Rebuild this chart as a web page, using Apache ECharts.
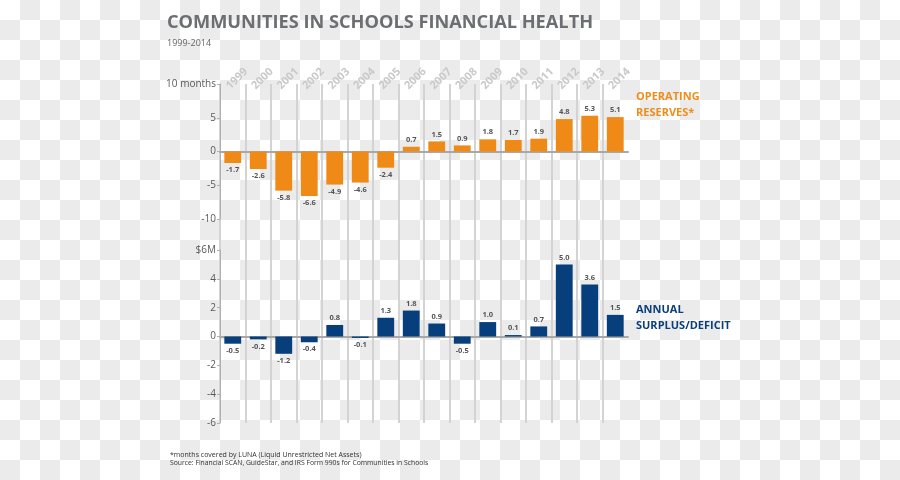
<!DOCTYPE html>
<html>
<head>
<meta charset="utf-8">
<script src="https://cdn.jsdelivr.net/npm/echarts@6/dist/echarts.min.js"></script>
<style>
  html, body { margin: 0; padding: 0; }
  body {
    background: repeating-conic-gradient(#ebebeb 0 25%, #ffffff 0 50%) 0 0 / 40px 40px;
  }
  #chart { width: 900px; height: 480px; }
</style>
</head>
<body>
<div id="chart"></div>
<script>
const years = ['1999','2000','2001','2002','2003','2004','2005','2006','2007','2008','2009','2010','2011','2012','2013','2014'];
const operatingReserves = [-1.7, -2.6, -5.8, -6.6, -4.9, -4.6, -2.4, 0.7, 1.5, 0.9, 1.8, 1.7, 1.9, 4.8, 5.3, 5.1];
const annualSurplus = [-0.5, -0.2, -1.2, -0.4, 0.8, -0.1, 1.3, 1.8, 0.9, -0.5, 1.0, 0.1, 0.7, 5.0, 3.6, 1.5];
const topTicks = { min: -10, max: 10, interval: 5, topLabel: '10 months' };
const bottomTicks = { min: -6, max: 6, interval: 2, topLabel: '$6M' };

const ORANGE = '#ef8a17';
const NAVY = '#063f7b';
const FONT = '"Open Sans", "DejaVu Sans", sans-serif';

function barData(arr) {
  return arr.map(v => ({ value: v, label: { position: v < 0 ? 'bottom' : 'top' } }));
}

const splitColors = years.map(() => '#d3d3d3').concat(['rgba(0,0,0,0)']);

const chart = echarts.init(document.getElementById('chart'));
const yAxisCommon = (t) => ({
  type: 'value',
  min: t.min, max: t.max, interval: t.interval,
  axisLine: { show: true, lineStyle: { color: '#b0b0b0', width: 1 } },
  axisTick: { show: true, length: 3, lineStyle: { color: '#b0b0b0' } },
  splitLine: { show: false },
  axisLabel: {
    margin: 4, fontSize: 10, color: '#5a5a5a', fontFamily: FONT,
    formatter: v => v === t.max ? t.topLabel : String(v)
  }
});
const xAxisChart = (gi) => ({
  type: 'category', gridIndex: gi, data: years,
  axisLine: { show: true, onZero: true, lineStyle: { color: '#a8a8a8', width: 2 } },
  axisTick: { show: false },
  axisLabel: { show: false },
  splitLine: { show: false }
});
const labelStyle = {
  show: true, distance: 3, fontSize: 7.5, fontWeight: 'bold', color: '#555',
  fontFamily: FONT, formatter: p => p.value.toFixed(1)
};

chart.setOption({
  animation: false,
  title: [
    { text: 'COMMUNITIES IN SCHOOLS FINANCIAL HEALTH', left: 162, top: 9,
      textStyle: { fontSize: 18.2, fontWeight: 'bold', color: '#6d6e71', fontFamily: FONT } },
    { text: '1999-2014', left: 162, top: 34,
      textStyle: { fontSize: 9, fontWeight: 'normal', color: '#666', fontFamily: FONT } },
    { text: '*months covered by LUNA (Liquid Unrestricted Net Assets)', left: 165, top: 446,
      textStyle: { fontSize: 7, fontWeight: 'normal', color: '#333', fontFamily: FONT } },
    { text: 'Source: Financial SCAN, GuideStar, and IRS Form 990s for Communities in Schools', left: 165, top: 455,
      textStyle: { fontSize: 6.8, fontWeight: 'normal', color: '#333', fontFamily: FONT } }
  ],
  graphic: [
    { type: 'text', left: 636, top: 89, style: { text: 'OPERATING\nRESERVES*', fill: '#f08c1a', font: 'bold 11px ' + FONT, lineHeight: 16 } },
    { type: 'text', left: 636, top: 302, style: { text: 'ANNUAL\nSURPLUS/DEFICIT', fill: '#0a3f7c', font: 'bold 11px ' + FONT, lineHeight: 16 } }
  ],
  grid: [
    { left: 220, width: 408, top: 84, height: 339 },
    { left: 220, width: 408, top: 84, height: 135 },
    { left: 220, width: 408, top: 250, height: 173 }
  ],
  xAxis: [
    {
      type: 'category', gridIndex: 0, data: years, position: 'top',
      axisLine: { show: false }, axisTick: { show: false },
      axisLabel: {
        interval: 0, rotate: 45, margin: 1, fontSize: 11, fontWeight: 'bold',
        color: '#c9c9c9', fontFamily: FONT, align: 'center', verticalAlign: 'middle',
        padding: [0, 0, 0, 12]
      },
      splitLine: { show: true, interval: 0, lineStyle: { color: splitColors, width: 2 } }
    },
    xAxisChart(1),
    xAxisChart(2)
  ],
  yAxis: [
    { type: 'value', gridIndex: 0, min: 0, max: 1, show: false, splitLine: { show: false } },
    Object.assign({ gridIndex: 1 }, yAxisCommon(topTicks)),
    Object.assign({ gridIndex: 2 }, yAxisCommon(bottomTicks))
  ],
  series: [
    { type: 'bar', xAxisIndex: 1, yAxisIndex: 1, data: barData(operatingReserves),
      barWidth: '66%', itemStyle: { color: ORANGE }, label: labelStyle },
    { type: 'bar', xAxisIndex: 2, yAxisIndex: 2, data: barData(annualSurplus),
      barWidth: '66%', itemStyle: { color: NAVY }, label: labelStyle }
  ]
});
</script>
</body>
</html>
